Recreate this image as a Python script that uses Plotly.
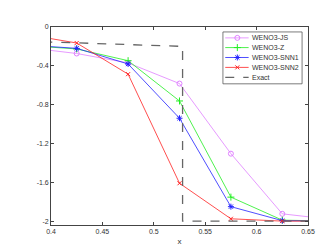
import plotly.graph_objects as go

x_pts = [0.375, 0.425, 0.475, 0.525, 0.575, 0.625, 0.675]
weno_js = [-0.21, -0.273, -0.37, -0.583, -1.305, -1.925, -1.985]
weno_z = [-0.19, -0.226, -0.347, -0.762, -1.753, -1.99, -2.0]
weno_snn1 = [-0.185, -0.22, -0.381, -0.94, -1.851, -1.995, -2.0]
weno_snn2 = [-0.075, -0.165, -0.486, -1.61, -1.976, -2.0, -2.0]

x_exact = [0.375, 0.528, 0.528, 0.675]
exact = [-0.146, -0.2, -2.0, -2.0]

x_ticks = [0.4, 0.45, 0.5, 0.55, 0.6, 0.65]
x_tick_text = ["0.4", "0.45", "0.5", "0.55", "0.6", "0.65"]
y_ticks = [-2, -1.6, -1.2, -0.8, -0.4, 0]
y_tick_text = ["-2", "-1.6", "-1.2", "-0.8", "-0.4", "0"]

series_names = ["WENO3-JS", "WENO3-Z", "WENO3-SNN1", "WENO3-SNN2", "Exact"]
series_colors = ["#e080ff", "#22ee22", "#2222ff", "#ff2222", "#666666"]
series_symbols = ["circle-open", "cross-thin-open", "asterisk-open", "x-thin-open", None]
series_sizes = [5, 5, 5, 4, 0]
series_data = [weno_js, weno_z, weno_snn1, weno_snn2]

FONT = "Liberation Sans, Arial"

fig = go.Figure()
for name, col, sym, sz, ys in zip(series_names[:4], series_colors[:4], series_symbols[:4], series_sizes[:4], series_data):
    fig.add_trace(go.Scatter(x=x_pts, y=ys, name=name, mode="lines+markers", showlegend=False,
                             line=dict(color=col, width=0.8),
                             marker=dict(symbol=sym, size=sz, color=col, line=dict(width=1, color=col))))
fig.add_trace(go.Scatter(x=x_exact, y=exact, name="Exact", mode="lines", showlegend=False,
                         line=dict(color=series_colors[4], width=1.3, dash="dash")))

# custom compact legend (paper coordinates)
leg_x0, leg_x1, leg_y0, leg_y1 = 0.669, 0.977, 0.713, 0.975
samp_x0, samp_x1, samp_xm, text_x = 0.678, 0.769, 0.725, 0.775
row_y = [0.945, 0.896, 0.846, 0.796, 0.746]

shapes = [dict(type="rect", xref="paper", yref="paper", x0=leg_x0, x1=leg_x1, y0=leg_y0, y1=leg_y1,
               line=dict(color="#444444", width=0.7), fillcolor="white", layer="below")]
annotations = []
for i, (name, col) in enumerate(zip(series_names, series_colors)):
    is_exact = name == "Exact"
    shapes.append(dict(type="line", xref="paper", yref="paper", x0=samp_x0, x1=samp_x1, y0=row_y[i], y1=row_y[i],
                       line=dict(color=col, width=1.3 if is_exact else 0.8, dash="dash" if is_exact else "solid"),
                       layer="below"))
    annotations.append(dict(x=text_x, y=row_y[i], xref="paper", yref="paper", text=name, showarrow=False,
                            xanchor="left", yanchor="middle",
                            font=dict(family=FONT, size=7, color="#333333")))
    if not is_exact:
        fig.add_trace(go.Scatter(x=[samp_xm], y=[row_y[i]], xaxis="x2", yaxis="y2", mode="markers",
                                 showlegend=False, hoverinfo="skip",
                                 marker=dict(symbol=series_symbols[i], size=series_sizes[i], color=col,
                                             line=dict(width=1, color=col))))

axis_common = dict(showgrid=False, zeroline=False, showline=True, linecolor="#444444", linewidth=0.7,
                   ticks="inside", ticklen=3, tickcolor="#444444", mirror="ticks",
                   tickfont=dict(family=FONT, size=7, color="#333333"))

fig.update_layout(
    width=332, height=249,
    margin=dict(l=43, r=32, t=19, b=29),
    paper_bgcolor="white", plot_bgcolor="white",
    xaxis=dict(range=[0.4, 0.65], tickvals=x_ticks, ticktext=x_tick_text,
               title=dict(text="x", font=dict(family=FONT, size=8, color="#333333"), standoff=4),
               **axis_common),
    yaxis=dict(range=[-2.04, 0], tickvals=y_ticks, ticktext=y_tick_text, **axis_common),
    xaxis2=dict(overlaying="x", range=[0, 1], visible=False),
    yaxis2=dict(overlaying="y", range=[0, 1], visible=False),
    shapes=shapes,
    annotations=annotations,
    showlegend=False,
)

fig.write_html("out.html")
